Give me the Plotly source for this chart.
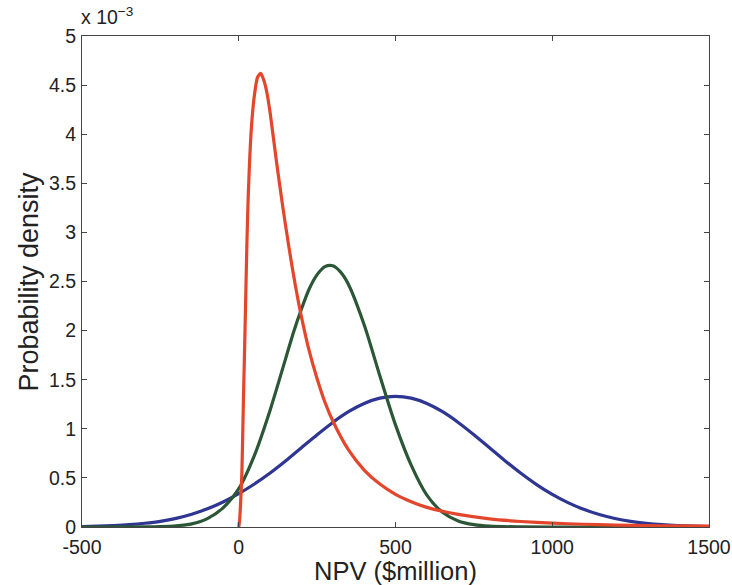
import plotly.graph_objects as go

# NPV values ($million) and densities (in units of 1e-3)
blue_x = [-500, -450, -400, -350, -300, -250, -200, -150, -100, -50, 0, 50, 100, 150, 200,
          250, 300, 350, 400, 450, 500, 550, 600, 650, 700, 750, 800, 850, 900, 950, 1000,
          1050, 1100, 1150, 1200, 1250, 1300, 1350, 1400, 1450, 1500]
blue_y = [0.005, 0.009, 0.015, 0.024, 0.038, 0.058, 0.088, 0.130, 0.185, 0.255, 0.340, 0.438,
          0.550, 0.675, 0.808, 0.940, 1.065, 1.174, 1.258, 1.312, 1.330, 1.312, 1.258, 1.174,
          1.065, 0.940, 0.807, 0.673, 0.547, 0.432, 0.332, 0.248, 0.180, 0.127, 0.087, 0.058,
          0.038, 0.024, 0.015, 0.009, 0.005]

green_x = [-500, -300, -250, -200, -150, -100, -50, 0, 50, 100, 150, 175, 200, 225, 250, 275,
           300, 325, 350, 400, 450, 500, 550, 600, 650, 700, 750, 800, 900, 1000, 1500]
green_y = [0.0, 0.001, 0.004, 0.012, 0.032, 0.085, 0.195, 0.390, 0.730, 1.190, 1.720, 1.986,
           2.220, 2.426, 2.570, 2.652, 2.660, 2.595, 2.470, 2.060, 1.540, 1.040, 0.630, 0.325,
           0.150, 0.062, 0.024, 0.008, 0.001, 0.0, 0.0]

red_x = [0, 3, 6, 10, 15, 20, 25, 30, 40, 50, 60, 70, 80, 90, 100, 120, 140, 160, 180, 200,
         225, 250, 275, 300, 350, 400, 450, 500, 550, 600, 650, 700, 800, 900, 1000, 1100,
         1200, 1300, 1400, 1500]
red_y = [0.0, 0.08, 0.25, 0.55, 1.30, 2.00, 2.75, 3.35, 4.05, 4.40, 4.58, 4.62, 4.55, 4.42,
         4.22, 3.73, 3.27, 2.85, 2.47, 2.14, 1.79, 1.51, 1.27, 1.08, 0.785, 0.58, 0.437,
         0.333, 0.258, 0.200, 0.160, 0.128, 0.083, 0.056, 0.039, 0.028, 0.020, 0.015,
         0.011, 0.008]

x_ticks = [-500, 0, 500, 1000, 1500]
x_tick_labels = ["-500", "0", "500", "1000", "1500"]
y_ticks = [0, 0.5, 1, 1.5, 2, 2.5, 3, 3.5, 4, 4.5, 5]
y_tick_labels = ["0", "0.5", "1", "1.5", "2", "2.5", "3", "3.5", "4", "4.5", "5"]

fig = go.Figure()
fig.add_trace(go.Scatter(x=blue_x, y=blue_y, mode="lines", line=dict(color="#2F3592", width=3.2, shape="spline", smoothing=0.8)))
fig.add_trace(go.Scatter(x=green_x, y=green_y, mode="lines", line=dict(color="#2B5736", width=3.2, shape="spline", smoothing=0.8)))
fig.add_trace(go.Scatter(x=red_x, y=red_y, mode="lines", line=dict(color="#E4462C", width=3.2, shape="spline", smoothing=0.6)))

font = "Liberation Sans, Arial, sans-serif"
axis_common = dict(showgrid=False, zeroline=False, showline=True, linecolor="#444", linewidth=1,
                   mirror="ticks", ticks="inside", ticklen=5, tickcolor="#444", automargin=False,
                   tickfont=dict(family=font, size=19.5, color="#222"))
fig.update_layout(
    width=732, height=585,
    margin=dict(l=82, r=23, t=36, b=58, autoexpand=False),
    paper_bgcolor="white", plot_bgcolor="white",
    showlegend=False,
    xaxis=dict(range=[-500, 1500], tickvals=x_ticks, ticktext=x_tick_labels,
               ticklabelstandoff=3, **axis_common),
    yaxis=dict(range=[0, 5], tickvals=y_ticks, ticktext=y_tick_labels,
               ticklabelstandoff=1, **axis_common),
    annotations=[
        dict(text="NPV ($million)", xref="paper", yref="paper", x=0.5, y=0, yshift=-44,
             xanchor="center", yanchor="middle", showarrow=False,
             font=dict(family=font, size=25.5, color="#222")),
        dict(text="Probability density", xref="paper", yref="paper", x=0, y=0.5, xshift=-54,
             xanchor="center", yanchor="middle", textangle=-90, showarrow=False,
             font=dict(family=font, size=27, color="#222")),
        dict(text="x 10<sup>−3</sup>", xref="paper", yref="paper", x=0, y=1, xshift=-3, yshift=6,
             xanchor="left", yanchor="bottom", showarrow=False,
             font=dict(family=font, size=19.5, color="#222")),
    ],
)
fig.write_html("out.html")
